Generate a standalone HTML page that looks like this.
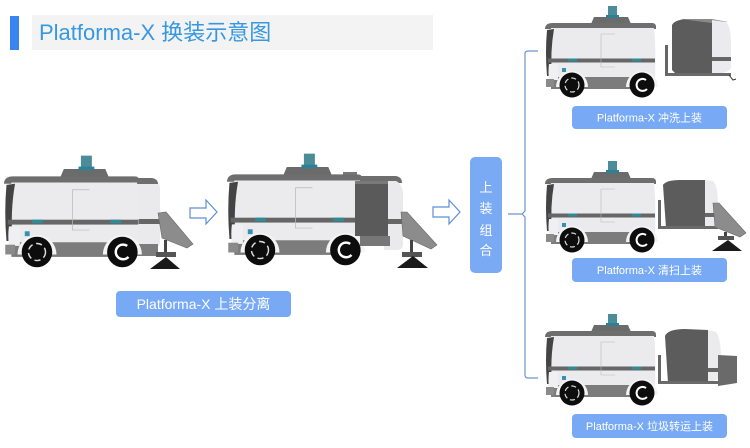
<!DOCTYPE html>
<html><head><meta charset="utf-8"><style>
html,body{margin:0;padding:0;background:#fff;}
svg{display:block;}
</style></head><body>
<svg width="750" height="448" viewBox="0 0 750 448" xmlns="http://www.w3.org/2000/svg">
<defs>
<g id="ch">
  <path d="M43 0 L46 -7 L80 -7 L83 0Z" fill="#6b6b6b"/>
  <rect x="60" y="-18" width="9" height="12" fill="#4c8c98"/>
  <rect x="58" y="-9" width="13" height="3" fill="#2f7f95"/>
  <path d="M-3 4 Q-2 -1 4 -1 L104 -1 Q108 -1 108 3 L108 5 L-3 5Z" fill="#6e6e6e"/>
  <path d="M3 4 L106 4 Q108 20 107 56 L1 56 Q-2 28 3 4Z" fill="#ebebed"/>
  <path d="M-1 6 L6 5 Q2 28 4 52 L-1 52 Q-3 28 -1 6Z" fill="#444"/>
  <rect x="0" y="34.5" width="107" height="4" fill="#666"/>
  <rect x="20" y="34.5" width="9" height="3" fill="#2f8a98"/>
  <rect x="84" y="34.5" width="9" height="3" fill="#2f8a98"/>
  <path d="M53 10 L67 10 M53 10 L53 43 L67 43" stroke="#b8b8b8" stroke-width="0.6" fill="none"/>
  <rect x="3" y="53" width="103" height="12" fill="#7c7c7c"/>
  <path d="M1 40 L10 40 L10 56 L1 56 Q0 48 1 40Z" fill="#f0f0f2"/>
  <rect x="-2" y="55" width="8" height="8" fill="#8a8a8a"/>
  <path d="M8 63 A16 16 0 0 1 40 63Z" fill="#f4f4f4"/>
  <path d="M78 63 A16 16 0 0 1 110 63Z" fill="#f4f4f4"/>
  <circle cx="24" cy="61" r="12.5" fill="#0d0d0d"/>
  <circle cx="24" cy="61" r="7" fill="none" stroke="#dcdcdc" stroke-width="1.2" stroke-dasharray="5 3"/>
  <circle cx="94" cy="61" r="12.5" fill="#0d0d0d"/>
  <path d="M98 56 A6 6 0 1 0 99 65" stroke="#fff" stroke-width="2" fill="none"/>
  <rect x="14" y="44" width="4" height="4" fill="#3a8fb0"/>
</g>
</defs>

<!-- title -->
<rect x="10" y="16" width="9" height="34" fill="#3a84f2"/>
<rect x="32" y="15" width="401" height="35" fill="#f3f3f3"/>
<text x="39" y="40" font-family="Liberation Sans, Noto Sans CJK SC, sans-serif" font-size="22" fill="#3798e2">Platforma-X 换装示意图</text>

<!-- vehicle 1 -->
<rect x="134" y="181" width="26" height="68" rx="7" fill="#eaeaec"/>
<path d="M134 178 L152 178 Q158 179 158 184 L134 184Z" fill="#6e6e6e"/>
<rect x="134" y="219" width="26" height="5" fill="#666"/>
<rect x="136" y="244" width="22" height="12" fill="#7c7c7c"/>
<g transform="translate(7.7,177.6) scale(1.22)"><use href="#ch"/></g>
<polygon points="158,213 166,212 193,244 187,248 162,238" fill="#8c8c8c" stroke="#6a6a6a" stroke-width="0.6"/>
<rect x="164" y="240" width="3" height="14" fill="#444"/>
<rect x="156" y="252" width="20" height="5" fill="#555"/>
<polygon points="150,269 180,269 166,257" fill="#1a1a1a"/>

<!-- arrow 1 -->
<path d="M190 208 L206 208 L206 200 L217 212 L206 224 L206 218 L190 218Z" fill="#fff" stroke="#5b8fd6" stroke-width="1.2"/>

<!-- vehicle 2 -->
<rect x="343" y="172" width="14" height="8" fill="#777"/>
<path d="M355 176 L396 176 Q402 177 402 183 L355 183Z" fill="#6e6e6e"/>
<path d="M384 181 L396 181 Q403 184 403 196 L403 244 Q403 250 397 250 L384 250Z" fill="#eaeaec"/>
<rect x="384" y="219" width="19" height="5" fill="#666"/>
<g transform="translate(230.7,175.6) scale(1.22)"><use href="#ch"/></g>
<path d="M355 181 L388 181 L388 236 L355 236Z" fill="#5a5a5a"/>
<rect x="355" y="181" width="33" height="3" fill="#7a7a7a"/>
<rect x="360" y="236" width="30" height="10" fill="#777"/>
<polygon points="401,212 407,212 437,245 431,249 403,236" fill="#8c8c8c" stroke="#6a6a6a" stroke-width="0.6"/>
<rect x="410" y="240" width="3" height="14" fill="#444"/>
<rect x="402" y="252" width="20" height="5" fill="#555"/>
<polygon points="397,268 428,268 413,256" fill="#1a1a1a"/>

<!-- label left -->
<rect x="116" y="291" width="175" height="26" rx="4" fill="#78a9f5"/>
<text x="203.5" y="309" text-anchor="middle" font-family="Liberation Sans, Noto Sans CJK SC, sans-serif" font-size="14" fill="#fff">Platforma-X 上装分离</text>

<!-- arrow 2 -->
<path d="M433 207 L449 207 L449 200 L460 212 L449 224 L449 217 L433 217Z" fill="#fff" stroke="#5b8fd6" stroke-width="1.2"/>

<!-- 上装组合 box -->
<rect x="470" y="157" width="32" height="116" rx="5" fill="#7aaaf3"/>
<g font-family="Liberation Sans, Noto Sans CJK SC, sans-serif" font-size="13" fill="#fff" text-anchor="middle">
<text x="486" y="192">上</text>
<text x="486" y="213">装</text>
<text x="486" y="235">组</text>
<text x="486" y="255">合</text>
</g>

<!-- bracket -->
<path d="M538 51 L528 51 Q525 51 525 54 L525 211 L522 214 L508 214 M522 214 L525 217 L525 375 Q525 378 528 378 L538 378" fill="none" stroke="#6f94c8" stroke-width="1.2"/>

<!-- top right -->
<g transform="translate(548,24)"><use href="#ch"/></g>
<path d="M672 25 Q675 19 690 19 L712 20 L712 74 L676 74 L672 70Z" fill="#5c5c5c"/>
<path d="M680 19 L712 19 L728 22 L712 23Z" fill="#8a8a8a"/>
<path d="M712 20 L726 22 Q731 26 731 45 L731 68 Q728 74 712 74Z" fill="#ebebed"/>
<rect x="712" y="57" width="19" height="4" fill="#666"/>
<rect x="665" y="73" width="66" height="3" fill="#6a6a6a"/>
<rect x="665" y="45" width="3" height="30" fill="#666"/>
<path d="M729 75 L733 80 L736 79" stroke="#333" stroke-width="1" fill="none"/>
<rect x="572" y="106" width="155" height="23" rx="4" fill="#78a9f5"/>
<text x="649.5" y="121.5" text-anchor="middle" font-family="Liberation Sans, Noto Sans CJK SC, sans-serif" font-size="11" fill="#fff">Platforma-X 冲洗上装</text>

<!-- middle right -->
<g transform="translate(548,179)"><use href="#ch"/></g>
<path d="M663 185 Q666 180 680 180 L705 180 L705 228 L666 228Z" fill="#5c5c5c"/>
<path d="M705 180 L713 181 Q718 186 718 205 L718 225 L705 228Z" fill="#ebebed"/>
<rect x="705" y="213" width="13" height="4" fill="#666"/>
<rect x="658" y="226" width="60" height="3" fill="#6a6a6a"/>
<rect x="658" y="200" width="3" height="28" fill="#666"/>
<polygon points="713,203 719,203 746,233 740,237 715,227" fill="#8c8c8c" stroke="#6a6a6a" stroke-width="0.6"/>
<rect x="724" y="232" width="3" height="8" fill="#444"/>
<rect x="718" y="236" width="16" height="4" fill="#555"/>
<polygon points="712,251 742,251 728,240" fill="#1a1a1a"/>
<rect x="572" y="258" width="155" height="24" rx="4" fill="#78a9f5"/>
<text x="649.5" y="274" text-anchor="middle" font-family="Liberation Sans, Noto Sans CJK SC, sans-serif" font-size="11" fill="#fff">Platforma-X 清扫上装</text>

<!-- bottom right -->
<g transform="translate(548,332)"><use href="#ch"/></g>
<path d="M665 336 Q668 329 685 329 L708 330 L708 383 L668 383Z" fill="#5c5c5c"/>
<path d="M708 330 L716 332 Q721 338 721 360 L721 378 L708 383Z" fill="#ebebed"/>
<rect x="708" y="368" width="13" height="4" fill="#666"/>
<path d="M718 355 L737 356 L737 383 L718 386Z" fill="#6a6a6a"/>
<rect x="658" y="381" width="63" height="3" fill="#6a6a6a"/>
<rect x="658" y="355" width="3" height="28" fill="#666"/>
<rect x="572" y="414" width="155" height="24" rx="4" fill="#78a9f5"/>
<text x="649.5" y="430" text-anchor="middle" font-family="Liberation Sans, Noto Sans CJK SC, sans-serif" font-size="11" fill="#fff">Platforma-X 垃圾转运上装</text>
</svg>
</body></html>
